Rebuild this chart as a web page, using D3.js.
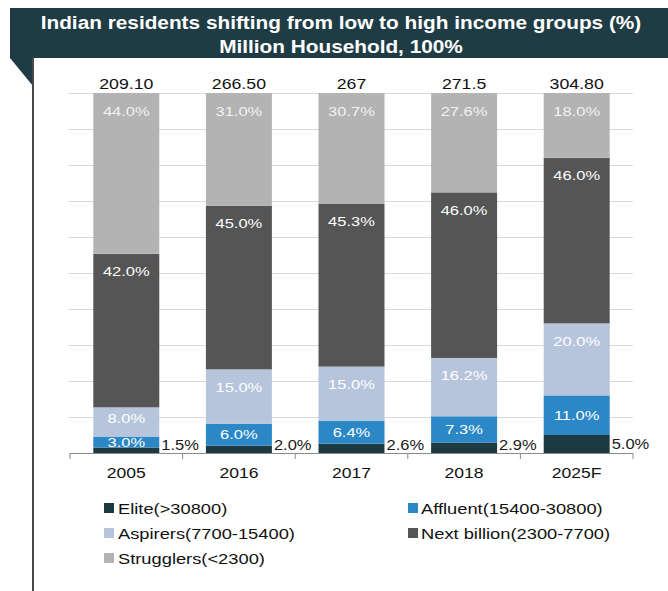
<!DOCTYPE html>
<html><head><meta charset="utf-8">
<script src="https://cdn.jsdelivr.net/npm/d3@7"></script>
<style>
body{margin:0;background:#fff}
svg{display:block}
text{font-family:"Liberation Sans",Arial,sans-serif}
</style>
</head><body>
<svg id="c" width="668" height="591"></svg>
<script>
// ---------- data ----------
const categories = ["2005", "2016", "2017", "2018", "2025F"];
const totals = ["209.10", "266.50", "267", "271.5", "304.80"];
const seriesKeys = ["elite", "affluent", "aspirers", "nextBillion", "strugglers"];
const seriesNames = ["Elite(>30800)", "Affluent(15400-30800)", "Aspirers(7700-15400)", "Next billion(2300-7700)", "Strugglers(<2300)"];
const elite       = [1.5, 2.0, 2.6, 2.9, 5.0];
const affluent    = [3.0, 6.0, 6.4, 7.3, 11.0];
const aspirers    = [8.0, 15.0, 15.0, 16.2, 20.0];
const nextBillion = [42.0, 45.0, 45.3, 46.0, 46.0];
const strugglers  = [44.0, 31.0, 30.7, 27.6, 18.0];
const gridTicks = [0.1, 0.2, 0.3, 0.4, 0.5, 0.6, 0.7, 0.8, 0.9, 1.0];
const titleLines = ["Indian residents shifting from low to high income groups (%)", "Million Household, 100%"];

// ---------- styles ----------
const colors = {
  elite: "#1d3a42",
  affluent: "#2b87c6",
  aspirers: "#b6c5dc",
  nextBillion: "#555555",
  strugglers: "#b3b3b3"
};
const headerColor = "#1f3c45";

const svg = d3.select("#c");
function stretch(sel, f) {
  sel.each(function () {
    const w = this.getComputedTextLength();
    this.setAttribute("textLength", (w * f).toFixed(1));
    this.setAttribute("lengthAdjust", "spacingAndGlyphs");
  });
}

// ---------- header ----------
svg.append("rect").attr("x", 10).attr("y", 8).attr("width", 658).attr("height", 50).attr("fill", headerColor);
svg.append("path").attr("d", "M10,58 L33,58 L33,86 Z").attr("fill", headerColor);
svg.append("line").attr("x1", 33).attr("x2", 33).attr("y1", 58).attr("y2", 591)
  .attr("stroke", "#4a4a4a").attr("stroke-width", 2);

const title = svg.append("g").selectAll("text").data(titleLines).join("text")
  .attr("x", 341).attr("y", (d, i) => 29 + i * 24)
  .attr("text-anchor", "middle").attr("fill", "#ffffff")
  .attr("font-size", 18).attr("font-weight", "bold")
  .text(d => d);
stretch(title, 1.155);

// ---------- scales ----------
const rows = categories.map((c, i) => ({
  cat: c, elite: elite[i], affluent: affluent[i], aspirers: aspirers[i],
  nextBillion: nextBillion[i], strugglers: strugglers[i]
}));
const stack = d3.stack().keys(seriesKeys).offset(d3.stackOffsetExpand)(rows);

const x = d3.scaleBand().domain(categories).range([70, 633]).paddingInner(0.414).paddingOuter(0.207);
const y = d3.scaleLinear().domain([0, 1]).range([453, 93]);

// gridlines
svg.append("g").selectAll("line").data(gridTicks).join("line")
  .attr("x1", 68).attr("x2", 633)
  .attr("y1", d => Math.round(y(d)) + 0.5).attr("y2", d => Math.round(y(d)) + 0.5)
  .attr("stroke", "#d9d9d9").attr("stroke-width", 1);

// bars
const layers = svg.append("g").selectAll("g").data(stack).join("g")
  .attr("fill", d => colors[d.key]);
layers.selectAll("rect").data(d => d).join("rect")
  .attr("x", d => x(d.data.cat))
  .attr("width", x.bandwidth())
  .attr("y", d => y(d[1]))
  .attr("height", d => y(d[0]) - y(d[1]));

// axis
const step = x.step();
const axisG = svg.append("g").attr("transform", "translate(0,453)");
const xAxis = d3.axisBottom(x).tickSize(0).tickPadding(14);
axisG.call(xAxis);
axisG.select(".domain").attr("stroke", "#8a8a8a").attr("d", "M70,0.5H633");
const bounds = d3.range(categories.length + 1).map(i => 70 + i * step);
axisG.selectAll(".bound").data(bounds).join("line").attr("class", "bound")
  .attr("x1", d => d).attr("x2", d => d).attr("y1", 0).attr("y2", 6)
  .attr("stroke", "#8a8a8a");
const axisTexts = axisG.selectAll(".tick text")
  .attr("font-family", "Liberation Sans, Arial, sans-serif")
  .attr("font-size", 15).attr("fill", "#111").attr("dy", null).attr("y", 24.5);
stretch(axisTexts, 1.17);

// totals
const tot = svg.append("g").selectAll("text").data(categories).join("text")
  .attr("x", d => x(d) + x.bandwidth() / 2).attr("y", 89)
  .attr("text-anchor", "middle").attr("font-size", 15).attr("fill", "#111")
  .text((d, i) => totals[i]);
stretch(tot, 1.18);

// segment labels
const fmt = v => v.toFixed(1) + "%";
stack.forEach(layer => {
  const key = layer.key;
  const g = svg.append("g");
  layer.forEach(d => {
    const top = y(d[1]), bot = y(d[0]), h = bot - top;
    const val = d.data[key];
    const t = g.append("text").text(fmt(val));
    if (key === "elite") {
      const cy = Math.min((top + bot) / 2, 445);
      t.attr("x", x(d.data.cat) + x.bandwidth() + 2).attr("y", cy + 5)
        .attr("font-size", 15).attr("fill", "#1a1a1a");
      stretch(t, 1.1);
    } else {
      const cy = key === "affluent" ? (top + bot) / 2 : top + Math.min(18, h * 0.38);
      t.attr("x", x(d.data.cat) + x.bandwidth() / 2).attr("y", cy + 4.5)
        .attr("text-anchor", "middle").attr("font-size", 13)
        .attr("fill", key === "strugglers" ? "#f2f2f2" : "#ffffff");
      stretch(t, 1.27);
    }
  });
});

// legend
const legendPos = [
  {sx: 104, tx: 118, cy: 508},
  {sx: 408, tx: 421, cy: 508},
  {sx: 104, tx: 118, cy: 533},
  {sx: 408, tx: 421, cy: 533},
  {sx: 104, tx: 118, cy: 558}
];
const lg = svg.append("g").selectAll("g").data(seriesKeys).join("g");
lg.append("rect")
  .attr("x", (d, i) => legendPos[i].sx).attr("y", (d, i) => legendPos[i].cy - 5)
  .attr("width", 10).attr("height", 10).attr("fill", d => colors[d]);
const lt = lg.append("text")
  .attr("x", (d, i) => legendPos[i].tx).attr("y", (d, i) => legendPos[i].cy + 5.5)
  .attr("font-size", 15.5).attr("fill", "#111")
  .text((d, i) => seriesNames[i]);
stretch(lt, 1.18);
</script>
</body></html>
